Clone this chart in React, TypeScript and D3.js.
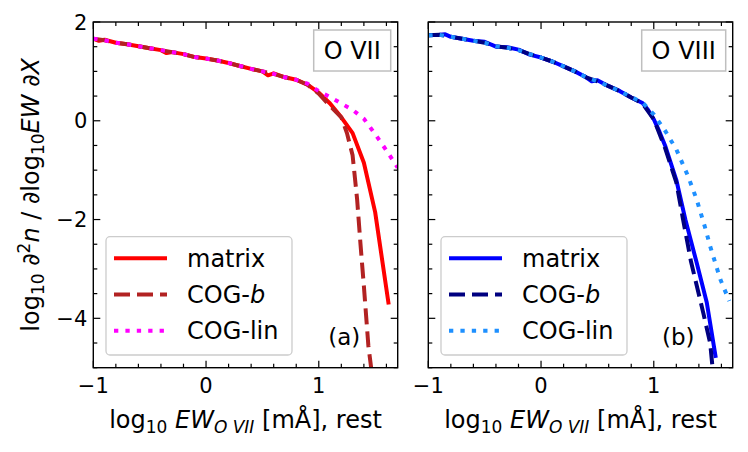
import { useEffect, useRef } from 'react';
import * as d3 from 'd3';

type Pt = [number, number];

// ticks
const xMajor = [-1, 0, 1];
const yMajor = [-4, -2, 0, 2];
const legendLabels = ['matrix', 'COG-', 'COG-lin'];

// O VII panel (a)
const o7Matrix: Pt[] = [
  [-1.0, 1.66], [-0.95, 1.62], [-0.9, 1.64], [-0.8, 1.58], [-0.7, 1.55], [-0.6, 1.51],
  [-0.5, 1.47], [-0.4, 1.43], [-0.35, 1.37], [-0.3, 1.39], [-0.2, 1.35], [-0.1, 1.29],
  [0.0, 1.26], [0.1, 1.22], [0.2, 1.17], [0.3, 1.11], [0.4, 1.05], [0.5, 1.0],
  [0.55, 0.92], [0.6, 0.96], [0.7, 0.88], [0.8, 0.83], [0.9, 0.73], [1.0, 0.57],
  [1.1, 0.35], [1.2, 0.07], [1.3, -0.25], [1.4, -0.85], [1.5, -1.85], [1.62, -3.72],
];
const o7CogB: Pt[] = [
  [-1.0, 1.66], [-0.9, 1.63], [-0.8, 1.58], [-0.7, 1.55], [-0.6, 1.51], [-0.5, 1.47],
  [-0.4, 1.43], [-0.3, 1.39], [-0.2, 1.35], [-0.1, 1.29], [0.0, 1.26], [0.1, 1.22],
  [0.2, 1.17], [0.3, 1.11], [0.4, 1.05], [0.5, 1.0], [0.6, 0.95], [0.7, 0.88],
  [0.8, 0.83], [0.9, 0.73], [1.0, 0.55], [1.1, 0.3], [1.2, 0.07], [1.25, -0.25],
  [1.3, -0.7], [1.34, -1.59], [1.37, -2.5], [1.4, -3.35], [1.44, -4.56], [1.47, -5.1],
];
const o7CogLin: Pt[] = [
  [-1.0, 1.66], [-0.9, 1.63], [-0.8, 1.58], [-0.7, 1.55], [-0.6, 1.51], [-0.5, 1.47],
  [-0.4, 1.43], [-0.3, 1.39], [-0.2, 1.35], [-0.1, 1.29], [0.0, 1.26], [0.1, 1.22],
  [0.2, 1.17], [0.3, 1.11], [0.4, 1.05], [0.5, 1.0], [0.6, 0.95], [0.7, 0.88],
  [0.8, 0.83], [0.9, 0.75], [1.0, 0.6], [1.1, 0.48], [1.2, 0.35], [1.3, 0.22],
  [1.4, 0.04], [1.5, -0.27], [1.6, -0.6], [1.7, -0.95],
];

// O VIII panel (b)
const o8Matrix: Pt[] = [
  [-1.0, 1.73], [-0.9, 1.74], [-0.85, 1.75], [-0.8, 1.7], [-0.7, 1.66], [-0.6, 1.62],
  [-0.5, 1.6], [-0.4, 1.5], [-0.3, 1.49], [-0.2, 1.44], [-0.1, 1.34], [0.0, 1.28],
  [0.1, 1.2], [0.2, 1.1], [0.3, 1.0], [0.4, 0.88], [0.45, 0.8], [0.5, 0.82],
  [0.6, 0.7], [0.7, 0.6], [0.8, 0.47], [0.9, 0.36], [0.95, 0.22], [1.0, 0.03],
  [1.05, -0.22], [1.1, -0.5], [1.2, -1.2], [1.28, -2.0], [1.38, -2.87], [1.47, -3.68],
  [1.55, -4.8],
];
const o8CogB: Pt[] = [
  [-1.0, 1.73], [-0.9, 1.74], [-0.8, 1.7], [-0.7, 1.66], [-0.6, 1.62], [-0.5, 1.58],
  [-0.4, 1.51], [-0.3, 1.48], [-0.2, 1.43], [-0.1, 1.35], [0.0, 1.28], [0.1, 1.2],
  [0.2, 1.1], [0.3, 1.0], [0.4, 0.88], [0.5, 0.8], [0.6, 0.7], [0.7, 0.6],
  [0.8, 0.47], [0.9, 0.35], [1.0, 0.03], [1.1, -0.55], [1.2, -1.25], [1.26, -2.0],
  [1.33, -2.85], [1.44, -3.9], [1.5, -4.5], [1.53, -5.2],
];
const o8CogLin: Pt[] = [
  [-1.0, 1.73], [-0.9, 1.74], [-0.8, 1.7], [-0.7, 1.66], [-0.6, 1.62], [-0.5, 1.58],
  [-0.4, 1.51], [-0.3, 1.48], [-0.2, 1.43], [-0.1, 1.35], [0.0, 1.28], [0.1, 1.2],
  [0.2, 1.1], [0.3, 1.0], [0.4, 0.88], [0.5, 0.8], [0.6, 0.7], [0.7, 0.6],
  [0.8, 0.48], [0.9, 0.37], [1.0, 0.13], [1.1, -0.2], [1.2, -0.58], [1.3, -1.1],
  [1.38, -1.59], [1.46, -2.2], [1.5, -2.54], [1.59, -3.21], [1.67, -3.65],
];

const panels = [
  { left: 93.3, ion: 'O VII', tag: '(a)', series: [o7Matrix, o7CogB, o7CogLin], colors: ['#ff0000', '#b22222', '#ff00ff'] },
  { left: 428.3, ion: 'O VIII', tag: '(b)', series: [o8Matrix, o8CogB, o8CogLin], colors: ['#0000ff', '#000080', '#1e90ff'] },
];

const FONT = 'DejaVu Sans, sans-serif';

const App: React.FC = () => {
  const svgRef = useRef<SVGSVGElement | null>(null);

  useEffect(() => {
    if (svgRef.current === null) return;
    const root = d3.select(svgRef.current);
    root.selectAll('*').remove();

    const W = 304.4;
    const top = 22;
    const H = 345.7;
    const dash = ['none', '16,7', '4.3,7.1'];

    const y = d3.scaleLinear().domain([-5, 2]).range([top + H, top]);

    // y label (mathtext-like)
    const yl = root
      .append('text')
      .attr('transform', `translate(39,${top + H / 2}) rotate(-90)`)
      .attr('text-anchor', 'middle')
      .style('font-family', FONT)
      .style('font-size', '24px');
    yl.append('tspan').text('log');
    yl.append('tspan').attr('dy', 5).style('font-size', '17px').text('10');
    yl.append('tspan').attr('dy', -5).text(' \u2202');
    yl.append('tspan').attr('dy', -9).style('font-size', '17px').text('2');
    yl.append('tspan').attr('dy', 9).style('font-style', 'italic').text('n');
    yl.append('tspan').text(' / \u2202log');
    yl.append('tspan').attr('dy', 5).style('font-size', '17px').text('10');
    yl.append('tspan').attr('dy', -5).style('font-style', 'italic').text('EW');
    yl.append('tspan').text(' \u2202');
    yl.append('tspan').style('font-style', 'italic').text('X');

    panels.forEach((p, pi) => {
      const x = d3.scaleLinear().domain([-1, 1.7]).range([p.left, p.left + W]);
      const g = root.append('g');
      const clipId = `clip${pi}`;
      root
        .append('clipPath')
        .attr('id', clipId)
        .append('rect')
        .attr('x', p.left)
        .attr('y', top)
        .attr('width', W)
        .attr('height', H);

      const line = d3
        .line<Pt>()
        .x((d) => x(d[0]))
        .y((d) => y(d[1]));

      const lines = g.append('g').attr('clip-path', `url(#${clipId})`);
      p.series.forEach((s, i) => {
        lines
          .append('path')
          .attr('d', line(s) ?? '')
          .attr('fill', 'none')
          .attr('stroke', p.colors[i])
          .attr('stroke-width', 4)
          .attr('stroke-dasharray', dash[i])
          .attr('stroke-linejoin', 'round');
      });

      // ticks, inward on all four sides
      const xMinor = d3.range(-1, 1.71, 0.2).filter((v) => !xMajor.some((m) => Math.abs(m - v) < 1e-6));
      const yMinor = d3.range(-5, 2.01, 0.5).filter((v) => !yMajor.some((m) => Math.abs(m - v) < 1e-6));
      const tickG = g.append('g').attr('stroke', '#000').attr('stroke-width', 1.2);
      const addX = (vals: number[], len: number) => {
        vals.forEach((v) => {
          tickG.append('line').attr('x1', x(v)).attr('x2', x(v)).attr('y1', top + H).attr('y2', top + H - len);
          tickG.append('line').attr('x1', x(v)).attr('x2', x(v)).attr('y1', top).attr('y2', top + len);
        });
      };
      const addY = (vals: number[], len: number) => {
        vals.forEach((v) => {
          tickG.append('line').attr('y1', y(v)).attr('y2', y(v)).attr('x1', p.left).attr('x2', p.left + len);
          tickG.append('line').attr('y1', y(v)).attr('y2', y(v)).attr('x1', p.left + W).attr('x2', p.left + W - len);
        });
      };
      addX(xMajor, 7);
      addX(xMinor, 4);
      addY(yMajor, 7);
      addY(yMinor, 4);

      g.append('rect')
        .attr('x', p.left)
        .attr('y', top)
        .attr('width', W)
        .attr('height', H)
        .attr('fill', 'none')
        .attr('stroke', '#000')
        .attr('stroke-width', 1.4);

      // tick labels
      g.selectAll('.xt')
        .data(xMajor)
        .enter()
        .append('text')
        .attr('x', (d) => x(d))
        .attr('y', top + H + 25.5)
        .attr('text-anchor', 'middle')
        .style('font-family', FONT)
        .style('font-size', '21px')
        .text((d) => d3.format('d')(d).replace('-', '\u2212'));
      if (pi === 0) {
        g.selectAll('.yt')
          .data(yMajor)
          .enter()
          .append('text')
          .attr('x', p.left - 6)
          .attr('y', (d) => y(d))
          .attr('dy', '0.36em')
          .attr('text-anchor', 'end')
          .style('font-family', FONT)
          .style('font-size', '21px')
          .text((d) => d3.format('d')(d).replace('-', '\u2212'));
      }

      // x label
      const xl = g
        .append('text')
        .attr('x', p.left + W / 2)
        .attr('y', 428)
        .attr('text-anchor', 'middle')
        .style('font-family', FONT)
        .style('font-size', '24px');
      xl.append('tspan').text('log');
      xl.append('tspan').attr('dy', 5).style('font-size', '17px').text('10');
      xl.append('tspan').attr('dy', -5).style('font-style', 'italic').text(' EW');
      xl.append('tspan').attr('dy', 5).style('font-size', '17px').style('font-style', 'italic').text('O VII');
      xl.append('tspan').attr('dy', -5).text(' [m\u00c5], rest');

      // ion label box
      const boxW = pi === 0 ? 77 : 84;
      const bx = p.left + W - 7 - boxW;
      g.append('rect')
        .attr('x', bx)
        .attr('y', 30)
        .attr('width', boxW)
        .attr('height', 41)
        .attr('fill', '#fff')
        .attr('stroke', '#bfbfbf')
        .attr('stroke-width', 1.5);
      g.append('text')
        .attr('x', bx + boxW / 2)
        .attr('y', 50.5)
        .attr('dy', '0.36em')
        .attr('text-anchor', 'middle')
        .style('font-family', FONT)
        .style('font-size', '24px')
        .text(p.ion);

      // panel tag
      g.append('text')
        .attr('x', p.left + (pi === 0 ? 251 : 250))
        .attr('y', 337)
        .attr('dy', '0.36em')
        .attr('text-anchor', 'middle')
        .style('font-family', FONT)
        .style('font-size', '23px')
        .text(p.tag);

      // legend
      const lx = p.left + 12.7;
      const leg = g.append('g');
      leg
        .append('rect')
        .attr('x', lx)
        .attr('y', 236.7)
        .attr('width', 186)
        .attr('height', 118.3)
        .attr('rx', 4)
        .attr('fill', '#fff')
        .attr('fill-opacity', 0.8)
        .attr('stroke', '#cccccc')
        .attr('stroke-width', 1.3);
      legendLabels.forEach((lab, i) => {
        const cy = 258.3 + i * 36.2;
        leg
          .append('line')
          .attr('x1', lx + 8)
          .attr('x2', lx + 61)
          .attr('y1', cy)
          .attr('y2', cy)
          .attr('stroke', p.colors[i])
          .attr('stroke-width', 4)
          .attr('stroke-dasharray', dash[i]);
        const t = leg
          .append('text')
          .attr('x', lx + 81)
          .attr('y', cy)
          .attr('dy', '0.36em')
          .style('font-family', FONT)
          .style('font-size', '24px')
          .text(lab);
        if (i === 1) t.append('tspan').style('font-style', 'italic').text('b');
      });
    });
  }, []);

  return (
    <svg
      ref={svgRef}
      width={748}
      height={452}
      style={{ position: 'absolute', left: 0, top: 0, background: '#fff' }}
    ></svg>
  );
};

export default App;
